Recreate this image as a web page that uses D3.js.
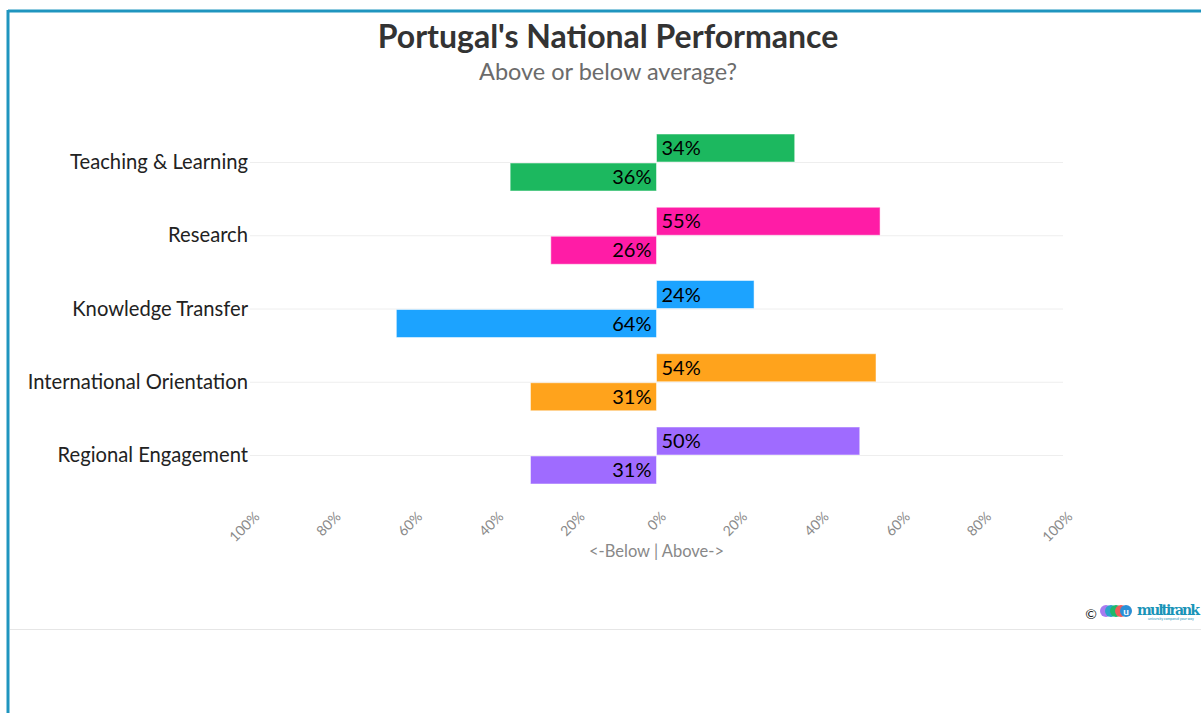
<!DOCTYPE html>
<html>
<head>
<meta charset="utf-8">
<script src="https://cdn.jsdelivr.net/npm/d3@7"></script>
<style>
  body { margin: 0; background: #fff; }
  svg { display: block; font-family: Lato, "Noto Sans", sans-serif; }
</style>
</head>
<body>
<svg id="chart" width="1201" height="713"></svg>
<script>
// chart data
var categories = ["Teaching & Learning", "Research", "Knowledge Transfer", "International Orientation", "Regional Engagement"];
var aboveValues = [34, 55, 24, 54, 50];
var belowValues = [36, 26, 64, 31, 31];
var barColors = ["#1cb85f", "#ff1ca6", "#1ca3ff", "#ffa31c", "#9f6bff"];
var tickValues = [-100, -80, -60, -40, -20, 0, 20, 40, 60, 80, 100];

var svg = d3.select("#chart");

// frame
svg.append("line").attr("x1", 8).attr("x2", 1201).attr("y1", 11).attr("y2", 11)
  .attr("stroke", "#1f95bf").attr("stroke-width", 3);
svg.append("line").attr("x1", 8).attr("x2", 8).attr("y1", 10).attr("y2", 713)
  .attr("stroke", "#1f95bf").attr("stroke-width", 3);
svg.append("line").attr("x1", 10).attr("x2", 1201).attr("y1", 629.5).attr("y2", 629.5)
  .attr("stroke", "#e6e6e6").attr("stroke-width", 1);

// title
svg.append("text").attr("x", 608).attr("y", 48).attr("text-anchor", "middle")
  .attr("font-size", 32).attr("font-weight", "bold").attr("fill", "#333")
  .text("Portugal's National Performance");
svg.append("text").attr("x", 608).attr("y", 80).attr("text-anchor", "middle")
  .attr("font-size", 23.5).attr("fill", "#6b6b6b")
  .text("Above or below average?");

// scales
var x = d3.scaleLinear().domain([-100, 100]).range([250, 1063]);
var y = d3.scalePoint().domain(categories).range([162, 455]);
var barH = 28;

// gridlines at each category
svg.append("g").selectAll("line").data(categories).join("line")
  .attr("x1", x(-100)).attr("x2", x(100))
  .attr("y1", function (d) { return y(d) + 0.5; })
  .attr("y2", function (d) { return y(d) + 0.5; })
  .attr("stroke", "#eeeeee");

// category labels
svg.append("g").selectAll("text").data(categories).join("text")
  .attr("x", 248).attr("y", function (d) { return y(d); })
  .attr("dy", "0.35em").attr("text-anchor", "end")
  .attr("font-size", 20.2).attr("fill", "#222")
  .text(function (d) { return d; });

var rows = categories.map(function (c, i) {
  return { cat: c, above: aboveValues[i], below: belowValues[i], color: barColors[i] };
});

var bars = svg.append("g");
// above-average bars (right of zero)
bars.selectAll(".above").data(rows).join("rect")
  .attr("class", "above")
  .attr("x", x(0))
  .attr("y", function (d) { return y(d.cat) - barH; })
  .attr("width", function (d) { return x(d.above) - x(0); })
  .attr("height", barH)
  .attr("fill", function (d) { return d.color; })
  .attr("stroke", "rgba(255,255,255,0.5)").attr("stroke-width", 1);
// below-average bars (left of zero)
bars.selectAll(".below").data(rows).join("rect")
  .attr("class", "below")
  .attr("x", function (d) { return x(-d.below); })
  .attr("y", function (d) { return y(d.cat) + 1; })
  .attr("width", function (d) { return x(0) - x(-d.below); })
  .attr("height", barH)
  .attr("fill", function (d) { return d.color; })
  .attr("stroke", "rgba(255,255,255,0.5)").attr("stroke-width", 1);

// value labels inside the bars
bars.selectAll(".lab-above").data(rows).join("text")
  .attr("class", "lab-above")
  .attr("x", x(0) + 5).attr("y", function (d) { return y(d.cat) - barH / 2; })
  .attr("dy", "0.36em").attr("font-size", 20).attr("fill", "#000")
  .text(function (d) { return d.above + "%"; });
bars.selectAll(".lab-below").data(rows).join("text")
  .attr("class", "lab-below")
  .attr("x", x(0) - 5).attr("y", function (d) { return y(d.cat) + 1 + barH / 2; })
  .attr("dy", "0.36em").attr("text-anchor", "end").attr("font-size", 20).attr("fill", "#000")
  .text(function (d) { return d.below + "%"; });

// x axis ticks (rotated)
var xAxis = svg.append("g");
xAxis.selectAll("text").data(tickValues).join("text")
  .attr("transform", function (d) { return "translate(" + (x(d) + 7) + ",514) rotate(-45)"; })
  .attr("text-anchor", "end").attr("dy", "0.35em")
  .attr("font-size", 14).attr("fill", "#8a8a8a")
  .text(function (d) { return Math.abs(d) + "%"; });

svg.append("text").attr("x", x(0)).attr("y", 557).attr("text-anchor", "middle")
  .attr("font-size", 16.5).attr("fill", "#888")
  .text("<-Below | Above->");

// credit logo
var logo = svg.append("g");
logo.append("text").attr("x", 1091).attr("y", 619).attr("text-anchor", "middle")
  .attr("font-size", 14).attr("fill", "#222").text("\u00a9");
var dots = ["#a77bf0", "#2aa4c9", "#1fb86a", "#f05a5a", "#2b8fd6"];
logo.selectAll("circle").data(dots).join("circle")
  .attr("cx", function (d, i) { return 1106 + i * 5; }).attr("cy", 611).attr("r", 6)
  .attr("fill", function (d) { return d; });
logo.append("text").attr("x", 1126).attr("y", 614.5).attr("text-anchor", "middle")
  .attr("font-size", 10).attr("font-weight", "bold").attr("fill", "#fff").text("u");
logo.append("text").attr("x", 1137).attr("y", 615).attr("font-size", 14)
  .attr("font-family", "DejaVu Serif, serif").attr("font-weight", "bold").attr("fill", "#1a94b8")
  .attr("textLength", 63).text("multirank");
logo.append("text").attr("x", 1148).attr("y", 620).attr("font-size", 3.5)
  .attr("fill", "#1a94b8").text("university compared your way");
</script>
</body>
</html>
